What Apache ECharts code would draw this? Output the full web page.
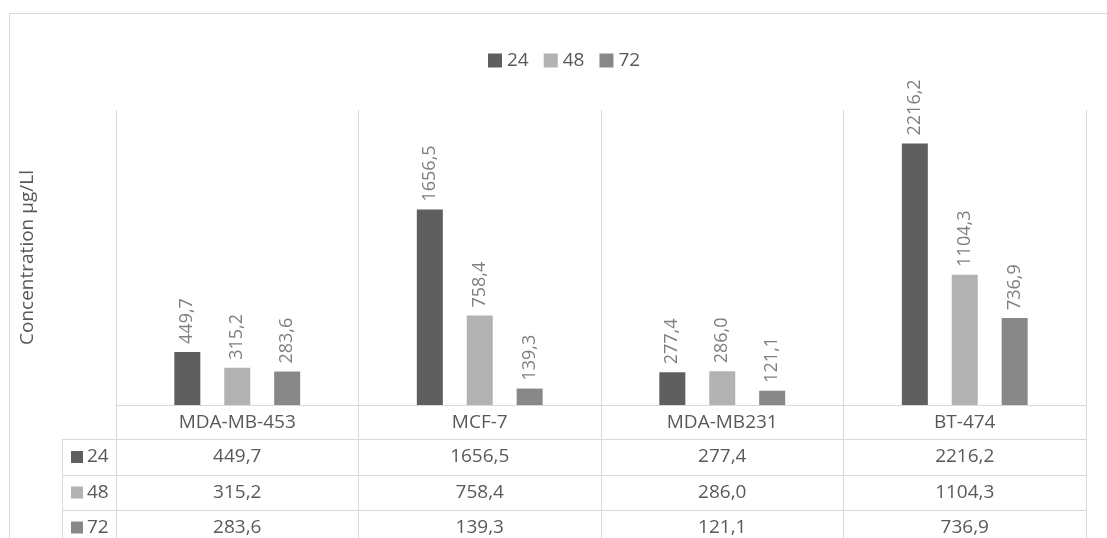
<!DOCTYPE html>
<html>
<head>
<meta charset="utf-8">
<script src="https://cdn.jsdelivr.net/npm/echarts@6/dist/echarts.min.js"></script>
<style>html,body{margin:0;padding:0;background:#fff}#c{width:1107px;height:538px}</style>
</head>
<body>
<div id="c"></div>
<script>
const categories = ['MDA-MB-453', 'MCF-7', 'MDA-MB231', 'BT-474'];
const seriesNames = ['24', '48', '72'];
const values24 = [449.7, 1656.5, 277.4, 2216.2];
const values48 = [315.2, 758.4, 286.0, 1104.3];
const values72 = [283.6, 139.3, 121.1, 736.9];
const colors = ['#5f5f5f', '#b2b2b2', '#888888'];
const yTitle = 'Concentration µg/Ll';

const allValues = [values24, values48, values72];
const FONT = 'Open Sans';
const TXT = '#595959';
const LINE = '#d9d9d9';
const fmt = v => v.toFixed(1).replace('.', ',');

const G = {left: 116, right: 21, top: 110, bottom: 133};
const baseY = 538 - G.bottom;
const rowOffsets = [0, 34, 70, 105];
const rowHeights = [34, 36, 35, 35];
const headerLeft = 62;

const chart = echarts.init(document.getElementById('c'), null, {renderer: 'canvas'});

const xAxes = rowOffsets.map((off, i) => ({
  type: 'category',
  data: categories,
  position: 'bottom',
  offset: off,
  axisLine: {show: true, lineStyle: {color: LINE, width: 1}},
  axisTick: {show: true, length: rowHeights[i], interval: 0, lineStyle: {color: LINE, width: 1}},
  splitLine: {show: i === 0, interval: 0, lineStyle: {color: LINE, width: 1}},
  axisLabel: {
    show: true, interval: 0, margin: 8, fontFamily: FONT, fontSize: 19, color: TXT,
    formatter: i === 0 ? (v => v) : ((v, idx) => fmt(allValues[i - 1][idx]))
  }
}));

const graphic = [
  {type: 'rect', shape: {x: 9.5, y: 13.5, width: 1200, height: 700}, style: {fill: 'none', stroke: LINE, lineWidth: 1}, silent: true}
];
// Row header column of the data table
for (let i = 1; i < rowOffsets.length; i++) {
  const y0 = baseY + rowOffsets[i];
  const h = rowHeights[i];
  graphic.push({type: 'line', shape: {x1: headerLeft, y1: y0 + 0.5, x2: G.left, y2: y0 + 0.5}, style: {stroke: LINE, lineWidth: 1}, silent: true});
  graphic.push({type: 'rect', shape: {x: 71, y: y0 + h / 2 - 6, width: 12, height: 12}, style: {fill: colors[i - 1]}, silent: true});
  graphic.push({type: 'text', x: 87, y: y0 + h / 2, style: {text: seriesNames[i - 1], fontFamily: FONT, fontSize: 19, fill: TXT, verticalAlign: 'middle', align: 'left'}, silent: true});
}
graphic.push({type: 'line', shape: {x1: headerLeft + 0.5, y1: baseY + rowOffsets[1], x2: headerLeft + 0.5, y2: 560}, style: {stroke: LINE, lineWidth: 1}, silent: true});

const option = {
  backgroundColor: '#ffffff',
  animation: false,
  color: colors,
  textStyle: {fontFamily: FONT},
  legend: {
    data: seriesNames, left: 483, top: 46, icon: 'rect', itemWidth: 14, itemHeight: 14, itemGap: 15,
    textStyle: {fontFamily: FONT, fontSize: 19, color: TXT}
  },
  grid: {left: G.left, right: G.right, top: G.top, bottom: G.bottom, outerBoundsMode: 'none', containLabel: false},
  xAxis: xAxes,
  yAxis: {
    type: 'value', min: 0, max: 2500, interval: 500,
    name: yTitle, nameLocation: 'middle', nameGap: 79,
    nameTextStyle: {fontFamily: FONT, fontSize: 19, color: TXT},
    axisLine: {show: false}, axisTick: {show: false}, axisLabel: {show: false}, splitLine: {show: false}
  },
  series: allValues.map((vals, i) => ({
    name: seriesNames[i],
    type: 'bar',
    xAxisIndex: 0,
    data: vals,
    barWidth: 26,
    barGap: '92%',
    itemStyle: {color: colors[i]},
    label: {
      show: true, position: 'top', rotate: 90, distance: 8, align: 'left', verticalAlign: 'middle',
      fontFamily: FONT, fontSize: 18, color: '#7f7f7f',
      formatter: p => fmt(p.value)
    }
  })),
  graphic: graphic
};
chart.setOption(option);
</script>
</body>
</html>
